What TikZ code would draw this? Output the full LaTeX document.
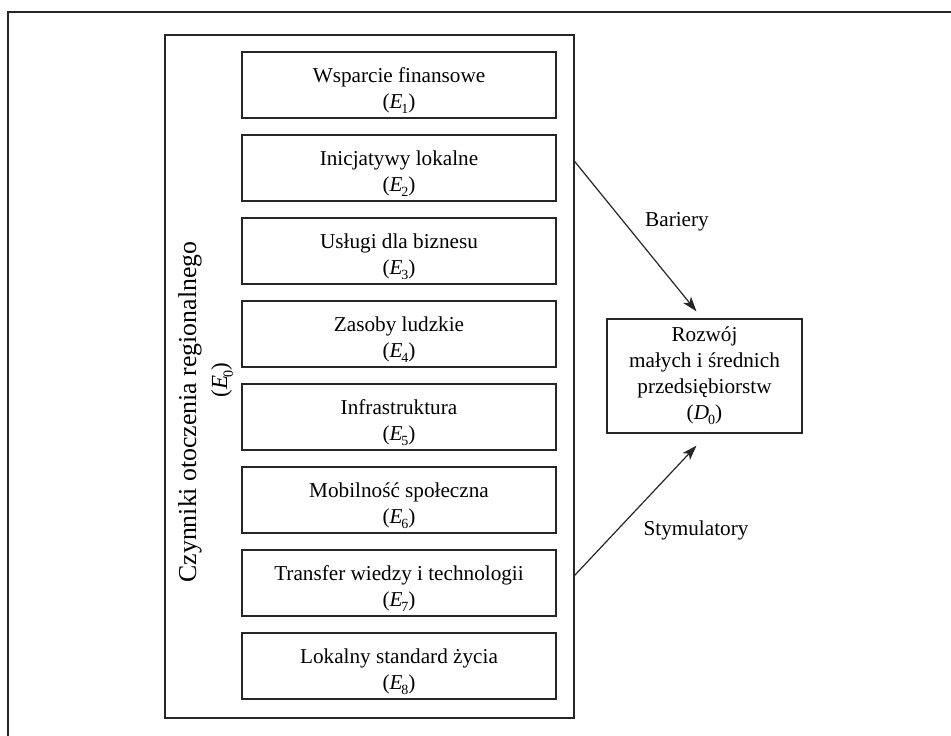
\documentclass[tikz,border=0pt]{standalone}
\usepackage{fontspec}
\setmainfont{Liberation Serif}
\usetikzlibrary{arrows.meta,calc}
\newcommand\lowidx[1]{\raisebox{-0.55ex}{\scriptsize #1}}
\newcommand\Eidx[1]{(\textit{E}\kern-0.06em\lowidx{#1})}

\begin{document}
\begin{tikzpicture}[x=0.5pt,y=-0.5pt,
  line/.style={draw=black!85,line width=0.6pt},
  ebox/.style={line, minimum width=157pt, minimum height=33pt, inner sep=0pt},
  etext/.style={anchor=north, align=center, inner sep=0pt, font=\fontsize{10.6}{13}\selectfont},
  bigbox/.style={line, minimum width=204.5pt, minimum height=341.5pt, inner sep=0pt},
  dbox/.style={line, minimum width=97.5pt, minimum height=57pt, inner sep=0pt, align=center, font=\fontsize{10.6}{13}\selectfont},
  lbl/.style={font=\fontsize{10.6}{13}\selectfont, inner sep=0pt},
  arr/.style={line, -{Stealth[length=7.5pt,width=5pt,inset=2pt]}},
  rotlbl/.style={rotate=90, inner sep=0pt}
]
\useasboundingbox (0,0) rectangle (951,735);
\clip (0,0) rectangle (951,735);
\draw[line] (8,12) rectangle (1000,800);

\node[bigbox] (big) at (369.5,376.5) {};

\foreach \i/\t in {1/Wsparcie finansowe, 2/Inicjatywy lokalne, 3/Usługi dla biznesu, 4/Zasoby ludzkie, 5/Infrastruktura, 6/Mobilność społeczna, 7/Transfer wiedzy i technologii, 8/Lokalny standard życia} {
  \node[ebox] (e\i) at (399, {85+83*(\i-1)}) {};
  \node[etext] (t\i) at ($(e\i.north)+(0,15.5)$) {\t\\\Eidx{\i}};
}

\node[rotlbl, font=\fontsize{12.9}{14}\selectfont] (czl) at (190,412) {Czynniki otoczenia regionalnego};
\node[rotlbl, font=\fontsize{11.5}{13}\selectfont] (e0l) at (222,380) {\Eidx{0}};

\node[dbox] (d0) at (704.5,376) {Rozwój\\małych i średnich\\przedsiębiorstw\\(\textit{D}\kern-0.04em\lowidx{0})};

\coordinate (bs) at ($(big.north east)+(0,127)$);
\coordinate (be) at ($(d0.north)+(-8,-7)$);
\coordinate (ss) at ($(big.north east)+(0,541)$);
\coordinate (se) at ($(d0.south)+(-8,12)$);

\draw[arr] (bs) -- (be);
\draw[arr] (ss) -- (se);

\node[lbl] (bar) at (677,222) {Bariery};
\node[lbl] (sty) at (696,530) {Stymulatory};
\end{tikzpicture}
\end{document}
